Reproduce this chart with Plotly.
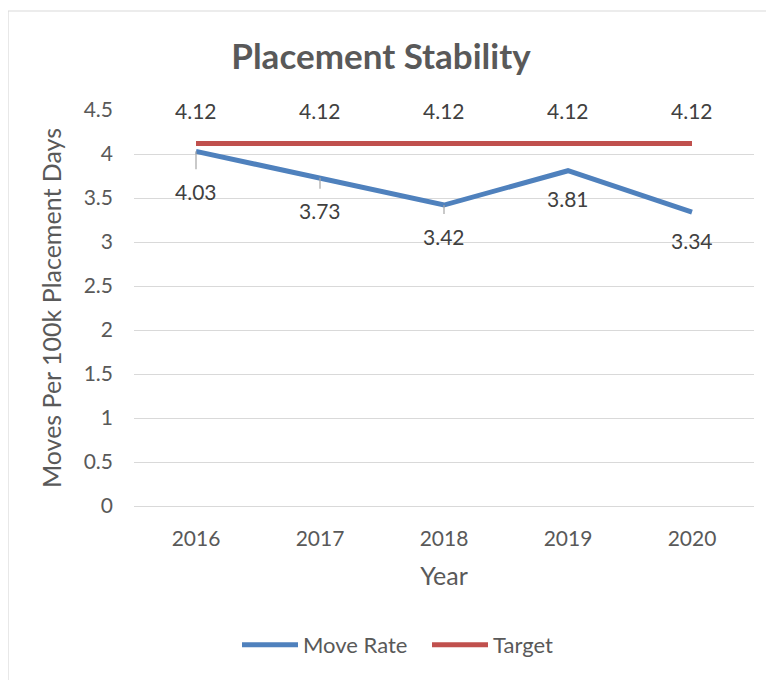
import plotly.graph_objects as go

years = [2016, 2017, 2018, 2019, 2020]
move_rate = [4.03, 3.73, 3.42, 3.81, 3.34]
target = [4.12, 4.12, 4.12, 4.12, 4.12]

# label offsets (pixels, positive = below) and leader-line flags for Move Rate labels
move_label_offsets = [40, 33, 31, 28, 28]
move_leader = [True, True, True, False, False]

BLUE = "#4F81BD"
RED = "#C0504D"
GRID = "#D9D9D9"
TXT = "#595959"
LBL = "#404040"
FONT = "Lato"

# page body has an 8px margin; compensate so the figure lines up with the window
OFF = 8
W, H = 774, 680

fig = go.Figure()
fig.add_trace(go.Scatter(x=years, y=move_rate, mode="lines", name="Move Rate",
                         line=dict(color=BLUE, width=5), hoverinfo="skip"))
fig.add_trace(go.Scatter(x=years, y=target, mode="lines", name="Target",
                         line=dict(color=RED, width=5), hoverinfo="skip"))

# Target labels above
for x, v in zip(years, target):
    fig.add_annotation(x=x, y=v, text=f"{v:.2f}", showarrow=False, yshift=33,
                       font=dict(family=FONT, size=21, color=LBL))

# Move Rate labels below with leader lines
for x, v, off, lead in zip(years, move_rate, move_label_offsets, move_leader):
    if lead:
        fig.add_annotation(x=x, y=v, text=f"{v:.2f}", showarrow=True, arrowhead=0,
                           arrowwidth=1.2, arrowcolor="#A6A6A6", ax=0, ay=off,
                           startstandoff=8,
                           font=dict(family=FONT, size=21, color=LBL))
    else:
        fig.add_annotation(x=x, y=v, text=f"{v:.2f}", showarrow=False, yshift=-off,
                           font=dict(family=FONT, size=21, color=LBL))

# chart border
fig.add_shape(type="rect", xref="paper", yref="paper",
              x0=(8 - 134) / 620, x1=1.2, y0=-0.6, y1=1 + (110 - 11) / 396,
              line=dict(color=GRID, width=1.2), fillcolor="rgba(0,0,0,0)", layer="below")

fig.update_layout(
    width=W, height=H,
    margin=dict(l=134 - OFF, r=20 + OFF, t=110 - OFF, b=174 + OFF),
    paper_bgcolor="white", plot_bgcolor="white",
    font=dict(family=FONT, color=TXT, size=21),
    title=dict(text="<b>Placement Stability</b>", xref="container", x=(381 - OFF) / W,
               xanchor="center", yref="container", y=1 - (57 - OFF) / H, yanchor="middle",
               font=dict(family=FONT, size=35, color=TXT)),
    showlegend=True,
    legend=dict(orientation="h", xref="container", yref="container",
                x=(427 - OFF) / W, xanchor="center", y=1 - (645 - OFF) / H, yanchor="middle",
                font=dict(family=FONT, size=22, color=TXT), itemwidth=56,
                entrywidth=119, entrywidthmode="pixels",
                traceorder="normal"),
    xaxis=dict(range=[2015.5, 2020.5], tickvals=years, ticktext=[str(y) for y in years],
               showgrid=False, showline=False, zeroline=False,
               ticks="", ticklabelstandoff=18, tickfont=dict(size=21, color=TXT),
               title=dict(text="Year", font=dict(size=25, color=TXT), standoff=18)),
    yaxis=dict(range=[0, 4.5], dtick=0.5, tick0=0, showgrid=True, gridcolor=GRID,
               gridwidth=1.2, zeroline=True, zerolinecolor=GRID, zerolinewidth=1.2,
               showline=False, ticks="", ticklabelstandoff=20,
               tickfont=dict(size=21, color=TXT),
               title=dict(text="Moves Per 100k Placement Days",
                          font=dict(size=25, color=TXT), standoff=14)),
)

fig.write_html("out.html")
